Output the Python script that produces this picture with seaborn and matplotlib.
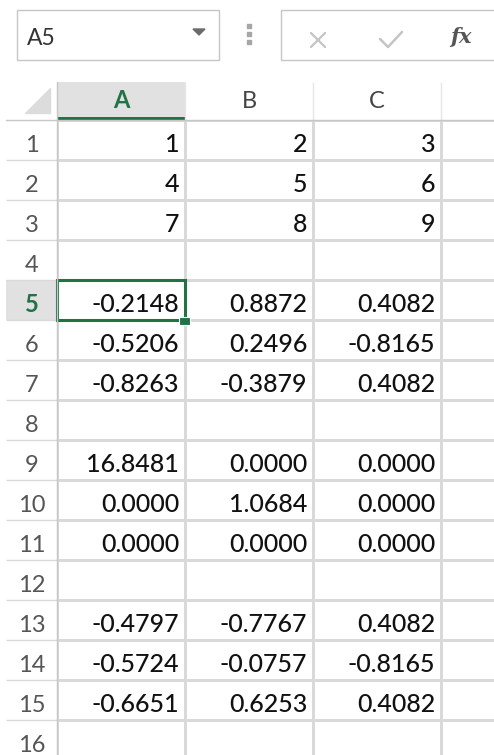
import numpy as np
import pandas as pd
import matplotlib
matplotlib.use("Agg")
import matplotlib.pyplot as plt
from matplotlib.colors import ListedColormap
from matplotlib.patches import Rectangle, Polygon
import seaborn as sns

# ----------------------------------------------------------------
# DATA  (worksheet contents)
# ----------------------------------------------------------------
columns = ["A", "B", "C", "D"]
visible_headers = ["A", "B", "C"]          # D is cut off at the right edge
row_labels = [str(i) for i in range(1, 17)]

block_input = [[1, 2, 3], [4, 5, 6], [7, 8, 9]]
block_u = [[-0.2148, 0.8872, 0.4082],
           [-0.5206, 0.2496, -0.8165],
           [-0.8263, -0.3879, 0.4082]]
block_s = [[16.8481, 0.0, 0.0],
           [0.0, 1.0684, 0.0],
           [0.0, 0.0, 0.0]]
block_v = [[-0.4797, -0.7767, 0.4082],
           [-0.5724, -0.0757, -0.8165],
           [-0.6651, 0.6253, 0.4082]]

active_col = "A"
active_row = "5"

# ----------------------------------------------------------------
# SETUP
# ----------------------------------------------------------------
sns.set_theme(style="white")
plt.rcParams["font.family"] = ["Lato", "DejaVu Sans"]

GREEN = "#217346"
GRID = "#d9d9d9"
HEAD_FILL = "#e1e1e1"
BORDER = "#c6c6c6"

W, H = 494, 755
fig = plt.figure(figsize=(W / 100, H / 100), dpi=100)
fig.patch.set_facecolor("white")


def frac(x0, y0, x1, y1):
    # pixel box (top-left origin) -> figure fraction rect
    return [x0 / W, 1 - y1 / H, (x1 - x0) / W, (y1 - y0) / H]


# build the 16 x 4 text grid from the blocks
def fmt_block(block, spec):
    return [[format(v, spec) for v in r] + [""] for r in block]

blank = [["", "", "", ""]]
cell_text = (fmt_block(block_input, "d") + blank + fmt_block(block_u, ".4f") + blank
             + fmt_block(block_s, ".4f") + blank + fmt_block(block_v, ".4f") + blank)

# ----------------------------------------------------------------
# CHROME (name box, formula bar)
# ----------------------------------------------------------------
chrome = fig.add_axes([0, 0, 1, 1])
chrome.set_xlim(0, W)
chrome.set_ylim(H, 0)
chrome.axis("off")

chrome.add_patch(Rectangle((17, 10), 202, 50, fill=False, ec=BORDER, lw=1))
chrome.text(27, 45, active_col + active_row, fontsize=16.5, color="#333333", va="baseline")
chrome.add_patch(Polygon([(193, 29), (205, 29), (199, 35)], closed=True, color="#6b6b6b"))
chrome.scatter([249, 249, 249], [26, 34, 42], s=5, color="#a6a6a6", marker="s")
chrome.add_patch(Rectangle((281, 10), 240, 50, fill=False, ec=BORDER, lw=1))
chrome.plot([311, 325], [33, 47], color="#c4c4c4", lw=1.6)
chrome.plot([311, 325], [47, 33], color="#c4c4c4", lw=1.6)
chrome.plot([380, 388, 402], [39, 47, 32], color="#c4c4c4", lw=1.8)
chrome.text(461, 37, "fx", fontsize=15, color="#555555", family="DejaVu Serif",
            style="italic", fontweight="bold", ha="center", va="center")

# select-all triangle
chrome.add_patch(Polygon([(25, 113), (50, 113), (50, 88)], closed=True, color="#dcdcdc"))

# ----------------------------------------------------------------
# COLUMN HEADERS
# ----------------------------------------------------------------
col_ax = fig.add_axes(frac(57, 82, 57 + 128 * 4, 120))
col_sel = pd.DataFrame([[1 if c == active_col else 0 for c in columns]], columns=columns)
sns.heatmap(col_sel, ax=col_ax, cmap=ListedColormap(["white", HEAD_FILL]), vmin=0, vmax=1,
            cbar=False, xticklabels=False, yticklabels=False)
col_ax.vlines(range(1, len(columns)), 0, 1, color="#e6e6e6", lw=1)
for j, c in enumerate(columns):
    on = c == active_col
    if c in visible_headers:
        col_ax.text(j + 0.5, 0.68, c, ha="center", va="baseline", fontsize=17,
                    color=GREEN if on else "#444444", fontweight="bold" if on else "normal")
    if on:
        col_ax.add_patch(Rectangle((j, 0.92), 1, 0.08, color=GREEN, lw=0))

# ----------------------------------------------------------------
# ROW HEADERS
# ----------------------------------------------------------------
row_ax = fig.add_axes(frac(6, 120, 57, 120 + 40 * 16))
row_sel = pd.DataFrame([[1 if r == active_row else 0] for r in row_labels], index=row_labels)
sns.heatmap(row_sel, ax=row_ax, cmap=ListedColormap(["white", HEAD_FILL]), vmin=0, vmax=1,
            cbar=False, xticklabels=False, yticklabels=False)
row_ax.hlines(range(1, len(row_labels)), 0, 1, color=GRID, lw=1)
for i, r in enumerate(row_labels):
    on = r == active_row
    row_ax.text(0.5, i + 0.8, r, ha="center", va="baseline", fontsize=17,
                color=GREEN if on else "#555555", fontweight="bold" if on else "normal")

# ----------------------------------------------------------------
# CELL GRID
# ----------------------------------------------------------------
grid = fig.add_axes(frac(57, 120, 57 + 128 * 4, 120 + 40 * 16))
cells = pd.DataFrame(np.zeros((len(row_labels), len(columns))), index=row_labels, columns=columns)
sns.heatmap(cells, ax=grid, cmap=ListedColormap(["white"]), cbar=False,
            linewidths=1, linecolor=GRID, xticklabels=False, yticklabels=False)
for i, row in enumerate(cell_text):
    for j, s in enumerate(row):
        if s:
            grid.text(j + 0.955, i + 0.8, s, ha="right", va="baseline", fontsize=18,
                      color="#111111", fontweight="medium")

# active cell outline + fill handle
ai = row_labels.index(active_row)
aj = columns.index(active_col)
grid.add_patch(Rectangle((aj, ai), 1, 1, fill=False, ec=GREEN, lw=2.2, clip_on=False, zorder=5))
grid.add_patch(Rectangle((aj + 0.953, ai + 0.925), 0.086, 0.2, fc=GREEN, ec="white", lw=0.8,
                         clip_on=False, zorder=6))

# header borders
fig.add_artist(plt.Line2D([57 / W, 57 / W], [0, 1 - 82 / H], color=BORDER, lw=1))
fig.add_artist(plt.Line2D([6 / W, 1], [1 - 120 / H, 1 - 120 / H], color=BORDER, lw=1))

plt.savefig("out.png", dpi=100)
plt.close()
